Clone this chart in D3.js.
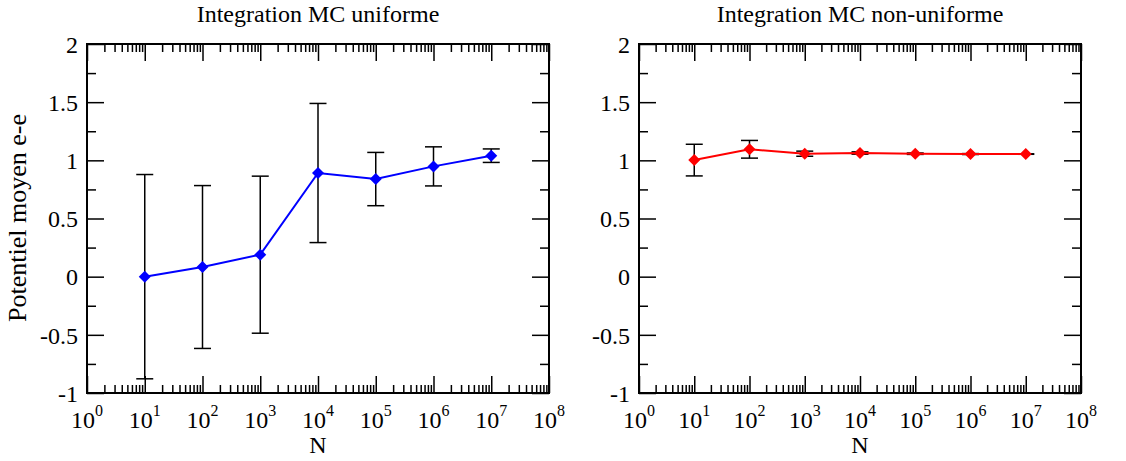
<!DOCTYPE html>
<html>
<head>
<meta charset="utf-8">
<script src="https://cdn.jsdelivr.net/npm/d3@7/dist/d3.min.js"></script>
<style>
  html, body { margin: 0; padding: 0; background: #fff; }
  svg text { font-family: "Liberation Serif", "DejaVu Serif", "Times New Roman", Times, serif !important; fill: #000; }
</style>
</head>
<body>
<svg id="chart" width="1126" height="461"></svg>
<script>
// ---- data ----
const N = [1e1, 1e2, 1e3, 1e4, 1e5, 1e6, 1e7];
const uniformMean = [0.000, 0.083, 0.189, 0.891, 0.839, 0.948, 1.040];
const uniformErr  = [0.878, 0.700, 0.675, 0.598, 0.229, 0.168, 0.058];
const nonUniformMean = [1.002, 1.095, 1.057, 1.063, 1.057, 1.054, 1.054];
const nonUniformErr  = [0.136, 0.076, 0.022, 0.010, 0.006, 0.004, 0.002];
const titles = ["Integration MC uniforme", "Integration MC non-uniforme"];
const xMajorExp = [0, 1, 2, 3, 4, 5, 6, 7, 8];
const yMajor = [-1, -0.5, 0, 0.5, 1, 1.5, 2];
const yLabel = "Potentiel moyen e-e";
const xLabel = "N";

const svg = d3.select("#chart");
const FONT = 24;
const SERIF = "'Liberation Serif', 'DejaVu Serif', 'Times New Roman', Times, serif";

const panels = [
  {x0: 87, x1: 549, mean: uniformMean, err: uniformErr, color: "#0000ff", title: titles[0], ylab: true},
  {x0: 639, x1: 1081, mean: nonUniformMean, err: nonUniformErr, color: "#ff0000", title: titles[1], ylab: false}
];
const yTop = 44, yBot = 393;

const xMajor = xMajorExp.map(e => Math.pow(10, e));
const xMinor = [];
for (let e = 0; e < 8; e++) for (let m = 2; m <= 9; m++) xMinor.push(m * Math.pow(10, e));
const yMinor = d3.range(-1, 2.001, 0.25).filter(v => Math.abs(v * 2 - Math.round(v * 2)) > 1e-6);

const fmtY = v => String(v).replace("\u2212", "-");

panels.forEach(p => {
  const x = d3.scaleLog().domain([1, 1e8]).range([p.x0, p.x1]);
  const y = d3.scaleLinear().domain([-1, 2]).range([yBot, yTop]);
  const g = svg.append("g").attr("font-family", SERIF);

  const styleAxis = sel => {
    sel.attr("font-family", SERIF).attr("font-size", FONT);
    sel.select(".domain").remove();
    sel.selectAll(".tick line").attr("stroke", "#000").attr("stroke-width", 1.5);
  };

  // x ticks bottom/top
  g.append("g").attr("transform", `translate(0,${yBot})`)
    .call(d3.axisBottom(x).tickValues(xMajor).tickSize(-17).tickFormat("")).call(styleAxis);
  g.append("g").attr("transform", `translate(0,${yBot})`)
    .call(d3.axisBottom(x).tickValues(xMinor).tickSize(-8).tickFormat("")).call(styleAxis);
  g.append("g").attr("transform", `translate(0,${yTop})`)
    .call(d3.axisTop(x).tickValues(xMajor).tickSize(-17).tickFormat("")).call(styleAxis);
  g.append("g").attr("transform", `translate(0,${yTop})`)
    .call(d3.axisTop(x).tickValues(xMinor).tickSize(-8).tickFormat("")).call(styleAxis);

  // y ticks left/right
  const yl = g.append("g").attr("transform", `translate(${p.x0},0)`)
    .call(d3.axisLeft(y).tickValues(yMajor).tickSize(-17).tickPadding(9).tickFormat(fmtY)).call(styleAxis);
  yl.selectAll("text").attr("fill", "#000").attr("dy", "0.34em").attr("font-family", SERIF);
  g.append("g").attr("transform", `translate(${p.x0},0)`)
    .call(d3.axisLeft(y).tickValues(yMinor).tickSize(-9).tickFormat("")).call(styleAxis);
  g.append("g").attr("transform", `translate(${p.x1},0)`)
    .call(d3.axisRight(y).tickValues(yMajor).tickSize(-17).tickFormat("")).call(styleAxis);
  g.append("g").attr("transform", `translate(${p.x1},0)`)
    .call(d3.axisRight(y).tickValues(yMinor).tickSize(-9).tickFormat("")).call(styleAxis);

  // x tick labels with superscripts
  xMajorExp.forEach(e => {
    const t = g.append("text")
      .attr("x", x(Math.pow(10, e)))
      .attr("y", 428)
      .attr("text-anchor", "middle")
      .attr("font-size", FONT);
    t.append("tspan").text("10");
    t.append("tspan").attr("font-size", 16).attr("dy", -12).text(String(e));
  });

  // frame
  g.append("rect")
    .attr("x", p.x0).attr("y", yTop)
    .attr("width", p.x1 - p.x0).attr("height", yBot - yTop)
    .attr("fill", "none").attr("stroke", "#000").attr("stroke-width", 2);

  // title
  g.append("text").attr("x", (p.x0 + p.x1) / 2).attr("y", 22)
    .attr("text-anchor", "middle").attr("font-size", FONT).text(p.title);
  // x label
  g.append("text").attr("x", (p.x0 + p.x1) / 2).attr("y", 453)
    .attr("text-anchor", "middle").attr("font-size", FONT).text(xLabel);
  if (p.ylab) {
    g.append("text")
      .attr("transform", `translate(26,218) rotate(-90)`)
      .attr("text-anchor", "middle").attr("font-size", 26).text(yLabel);
  }

  const pts = N.map((n, i) => ({n, m: p.mean[i], e: p.err[i]}));

  // error bars
  const eb = g.append("g").attr("stroke", "#000").attr("stroke-width", 1.5);
  pts.forEach(d => {
    const cx = x(d.n), yt = y(d.m + d.e), yb = y(d.m - d.e);
    eb.append("line").attr("x1", cx).attr("x2", cx).attr("y1", yt).attr("y2", yb);
    eb.append("line").attr("x1", cx - 8.5).attr("x2", cx + 8.5).attr("y1", yt).attr("y2", yt);
    eb.append("line").attr("x1", cx - 8.5).attr("x2", cx + 8.5).attr("y1", yb).attr("y2", yb);
  });

  // line
  g.append("path").datum(pts)
    .attr("d", d3.line().x(d => x(d.n)).y(d => y(d.m)))
    .attr("fill", "none").attr("stroke", p.color).attr("stroke-width", 2);

  // diamond markers
  const r = 6;
  g.append("g").selectAll("path").data(pts).join("path")
    .attr("transform", d => `translate(${x(d.n)},${y(d.m)})`)
    .attr("d", `M0,${-r}L${r},0L0,${r}L${-r},0Z`)
    .attr("fill", p.color);
});
</script>
</body>
</html>
